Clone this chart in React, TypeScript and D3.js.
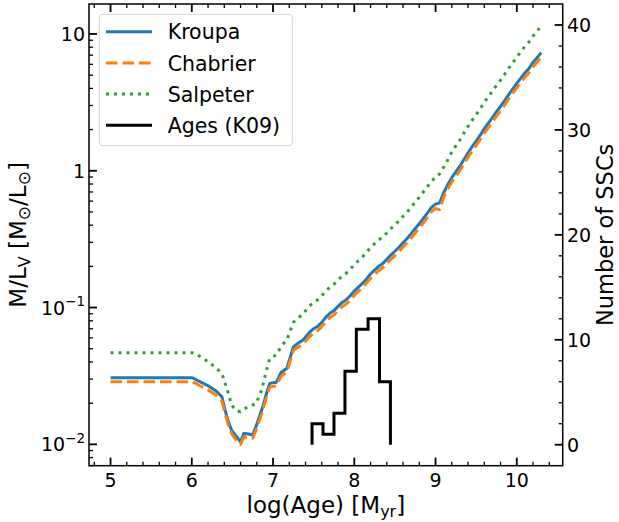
import React from "react";
import * as d3 from "d3";

const ages = [
  5.0, 5.5, 6.0, 6.05, 6.1, 6.2, 6.3, 6.37, 6.41, 6.45, 6.49, 6.55, 6.6, 6.64, 6.7, 6.75, 6.79, 6.86, 6.92, 6.96,
  7.04, 7.1, 7.17, 7.25, 7.3, 7.37, 7.45, 7.5, 7.55, 7.6, 7.65, 7.7, 7.75, 7.8, 7.85, 7.9, 7.95, 8.0, 8.05, 8.1,
  8.15, 8.2, 8.25, 8.3, 8.35, 8.4, 8.45, 8.5, 8.55, 8.6, 8.65, 8.7, 8.75, 8.8, 8.85, 8.9, 8.95, 9.0, 9.05, 9.1,
  9.15, 9.2, 9.25, 9.3, 9.35, 9.4, 9.45, 9.5, 9.55, 9.6, 9.65, 9.7, 9.75, 9.8, 9.85, 9.9, 9.95, 10.0, 10.05, 10.1,
  10.15, 10.2, 10.25, 10.3,
];

const kroupa = [
  0.0307, 0.0307, 0.0307, 0.0298, 0.0287, 0.0268, 0.0245, 0.0223, 0.0178, 0.0146, 0.0127, 0.0114, 0.01045, 0.012, 0.0119, 0.0117, 0.0135, 0.0178, 0.0236, 0.0279,
  0.0284, 0.0335, 0.036, 0.0516, 0.0545, 0.058, 0.066, 0.07, 0.073, 0.078, 0.085, 0.0908, 0.095, 0.102, 0.109, 0.114, 0.122, 0.132, 0.141, 0.15,
  0.162, 0.176, 0.188, 0.2, 0.21, 0.225, 0.242, 0.258, 0.276, 0.298, 0.32, 0.347, 0.378, 0.41, 0.448, 0.49, 0.54, 0.57, 0.583, 0.69,
  0.79, 0.89, 0.98, 1.08, 1.21, 1.35, 1.5, 1.65, 1.82, 2.03, 2.23, 2.45, 2.7, 2.95, 3.25, 3.6, 3.95, 4.35, 4.75, 5.2,
  5.6, 6.2, 6.7, 7.3,
];

const chabrier = [
  0.0287, 0.0287, 0.0287, 0.0279, 0.0268, 0.025, 0.0229, 0.0208, 0.0168, 0.0138, 0.012, 0.0107, 0.01, 0.0113, 0.0112, 0.0111, 0.0127, 0.0167, 0.0222, 0.0262,
  0.0268, 0.0314, 0.0338, 0.0484, 0.051, 0.0543, 0.0614, 0.0651, 0.0679, 0.0725, 0.079, 0.0844, 0.0884, 0.0949, 0.1014, 0.106, 0.1135, 0.1228, 0.1311, 0.1395,
  0.1507, 0.1637, 0.1748, 0.186, 0.1953, 0.2093, 0.2251, 0.2399, 0.2567, 0.2771, 0.2976, 0.3227, 0.3515, 0.3813, 0.4166, 0.4557, 0.5022, 0.5301, 0.52, 0.6417,
  0.7347, 0.8277, 0.9114, 1.0044, 1.1253, 1.2555, 1.395, 1.5345, 1.6926, 1.8879, 2.0739, 2.2785, 2.511, 2.7435, 3.0225, 3.348, 3.6735, 4.0455, 4.4175, 4.836,
  5.208, 5.766, 6.231, 6.79,
];

const salpeter = [
  0.0468, 0.0468, 0.0468, 0.0458, 0.044, 0.0402, 0.0362, 0.033, 0.028, 0.0236, 0.0194, 0.0176, 0.0173, 0.0181, 0.0189, 0.0194, 0.0198, 0.0249, 0.035, 0.0426,
  0.045, 0.052, 0.058, 0.078, 0.083, 0.09, 0.103, 0.109, 0.114, 0.122, 0.132, 0.141, 0.148, 0.159, 0.17, 0.178, 0.19, 0.206, 0.22, 0.234,
  0.253, 0.275, 0.293, 0.312, 0.328, 0.351, 0.378, 0.402, 0.431, 0.465, 0.499, 0.541, 0.59, 0.64, 0.699, 0.764, 0.842, 0.89, 0.95, 1.06,
  1.2, 1.37, 1.52, 1.68, 1.89, 2.11, 2.34, 2.57, 2.84, 3.17, 3.48, 3.82, 4.21, 4.6, 5.07, 5.62, 6.16, 6.79, 7.41, 8.11,
  8.74, 9.67, 10.45, 11.5,
];

const histEdges = [7.48, 7.615, 7.75, 7.885, 8.025, 8.17, 8.31, 8.445];
const histCounts = [2, 1, 3, 7, 11, 12, 6];

const xTicks = [5, 6, 7, 8, 9, 10];
const yTicks = [0.01, 0.1, 1, 10];
const yTickLabels = [["10", "\u22122"], ["10", "\u22121"], ["1", ""], ["10", ""]];
const rTicks = [0, 10, 20, 30, 40];

const legendItems = [
  { label: "Kroupa", color: "#1f77b4", dash: "none" },
  { label: "Chabrier", color: "#ff7f0e", dash: "11.5,5" },
  { label: "Salpeter", color: "#2ca02c", dash: "3,5" },
  { label: "Ages (K09)", color: "#000000", dash: "none" },
];

const FONT = "DejaVu Sans";

export default function App() {
  const L = 89, R = 562.7, T = 4, B = 465.7;
  const x = d3.scaleLinear().domain([4.735, 10.565]).range([L, R]);
  const y = d3.scaleLog().domain([0.00698, 16.56]).range([B, T]);
  const yR = d3.scaleLinear().domain([-2, 42]).range([B, T]);

  const mkLine = (vals: number[]) =>
    d3.line<number>().x((_, i) => x(ages[i])).y((v) => y(v))(vals) || "";

  const histPts: [number, number][] = [[histEdges[0], 0]];
  histCounts.forEach((c, i) => {
    histPts.push([histEdges[i], c]);
    histPts.push([histEdges[i + 1], c]);
  });
  histPts.push([histEdges[histEdges.length - 1], 0]);
  const histPath = d3.line<[number, number]>().x((d) => x(d[0])).y((d) => yR(d[1]))(histPts) || "";

  const xMinor = d3.range(4.8, 10.5, 0.2).filter((v) => Math.abs(v - Math.round(v)) > 0.01);
  const yMinor: number[] = [];
  for (let dd = -3; dd <= 1; dd++) for (let k = 2; k <= 9; k++) {
    const v = k * Math.pow(10, dd);
    if (v > 0.00698 && v < 16.56) yMinor.push(v);
  }
  const rMinor = d3.range(2, 42, 2).filter((v) => v % 10 !== 0);

  const MAJ = 8, MIN = 4, MW = 1.8, mW = 1.3;
  const tick = "#000";

  return (
    <svg width={619} height={522} style={{ position: "absolute", left: 0, top: 0 }} fontFamily={FONT}>
      <rect x={0} y={0} width={619} height={522} fill="#fff" />
      <defs>
        <clipPath id="clip">
          <rect x={L} y={T} width={R - L} height={B - T} />
        </clipPath>
      </defs>
      <g clipPath="url(#clip)" fill="none" strokeLinejoin="round">
        <path d={mkLine(kroupa)} stroke="#1f77b4" strokeWidth={3} />
        <path d={mkLine(chabrier)} stroke="#ff7f0e" strokeWidth={3} strokeDasharray="11.5,5" />
        <path d={mkLine(salpeter)} stroke="#2ca02c" strokeWidth={3} strokeDasharray="3,5" />
        <path d={histPath} stroke="#000" strokeWidth={3} strokeLinejoin="miter" />
      </g>

      {/* x ticks bottom and top */}
      {xTicks.map((v) => (
        <g key={"xt" + v}>
          <line x1={x(v)} x2={x(v)} y1={B} y2={B - MAJ} stroke={tick} strokeWidth={MW} />
          <line x1={x(v)} x2={x(v)} y1={T} y2={T + MAJ} stroke={tick} strokeWidth={MW} />
          <text x={x(v)} y={486.5} fontSize={19} textAnchor="middle">{v}</text>
        </g>
      ))}
      {xMinor.map((v, i) => (
        <g key={"xm" + i}>
          <line x1={x(v)} x2={x(v)} y1={B} y2={B - MIN} stroke={tick} strokeWidth={mW} />
          <line x1={x(v)} x2={x(v)} y1={T} y2={T + MIN} stroke={tick} strokeWidth={mW} />
        </g>
      ))}

      {/* left log ticks */}
      {yTicks.map((v, i) => (
        <g key={"yt" + v}>
          <line x1={L} x2={L + MAJ} y1={y(v)} y2={y(v)} stroke={tick} strokeWidth={MW} />
          <text x={85} y={y(v) + 7} fontSize={19} textAnchor="end">
            {yTickLabels[i][0]}
            {yTickLabels[i][1] ? (
              <tspan fontSize={13.5} dy={-8.5}>{yTickLabels[i][1]}</tspan>
            ) : null}
          </text>
        </g>
      ))}
      {yMinor.map((v, i) => (
        <line key={"ym" + i} x1={L} x2={L + MIN} y1={y(v)} y2={y(v)} stroke={tick} strokeWidth={mW} />
      ))}

      {/* right ticks */}
      {rTicks.map((v) => (
        <g key={"rt" + v}>
          <line x1={R} x2={R - MAJ} y1={yR(v)} y2={yR(v)} stroke={tick} strokeWidth={MW} />
          <text x={567} y={yR(v) + 7} fontSize={19} textAnchor="start">{v}</text>
        </g>
      ))}
      {rMinor.map((v, i) => (
        <line key={"rm" + i} x1={R} x2={R - MIN} y1={yR(v)} y2={yR(v)} stroke={tick} strokeWidth={mW} />
      ))}

      {/* spines */}
      <rect x={L} y={T} width={R - L} height={B - T} fill="none" stroke="#000" strokeWidth={1.5} />

      {/* axis labels */}
      <text x={(L + R) / 2} y={512.5} fontSize={23} textAnchor="middle">
        log(Age) [M<tspan fontSize={16} dy={4}>yr</tspan><tspan dy={-4}>]</tspan>
      </text>
      <text transform={`translate(26,${(T + B) / 2}) rotate(-90)`} fontSize={23} textAnchor="middle">
        M/L<tspan fontSize={16} dy={4}>V</tspan><tspan dy={-4}> [M</tspan><tspan fontSize={17} dy={4}>{"\u2299"}</tspan>
        <tspan dy={-4}>/L</tspan><tspan fontSize={17} dy={4}>{"\u2299"}</tspan><tspan dy={-4}>]</tspan>
      </text>
      <text transform={`translate(613,${(T + B) / 2}) rotate(-90)`} fontSize={22.5} textAnchor="middle">
        Number of SSCs
      </text>

      {/* legend */}
      <g>
        <rect x={99.3} y={14.3} width={193} height={131.4} rx={4} ry={4} fill="#fff" fillOpacity={0.8} stroke="#cccccc" strokeOpacity={0.8} strokeWidth={1.1} />
        {legendItems.map((it, i) => {
          const cy = 31.7 + i * 31.2;
          return (
            <g key={it.label}>
              <line x1={106} x2={152} y1={cy} y2={cy} stroke={it.color} strokeWidth={3} strokeDasharray={it.dash} />
              <text x={167.7} y={cy + 7.6} fontSize={20.5}>{it.label}</text>
            </g>
          );
        })}
      </g>
    </svg>
  );
}
